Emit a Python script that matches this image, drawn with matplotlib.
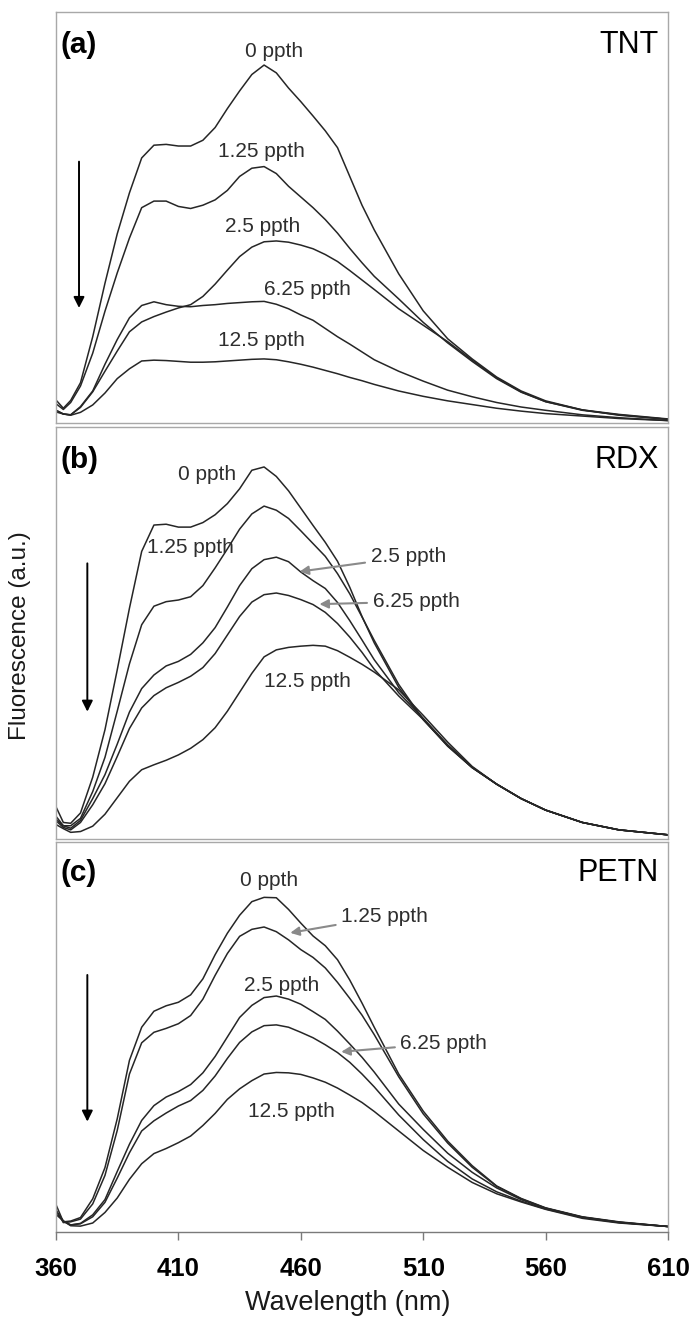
import numpy as np
import matplotlib
matplotlib.use("Agg")
import matplotlib.pyplot as plt

plt.rcParams['font.family'] = ['Liberation Sans', 'DejaVu Sans']

# Emission wavelength grid (nm)
wavelength = [360, 363, 366, 370, 375, 380, 385, 390, 395, 400, 405, 410, 415, 420,
              425, 430, 435, 440, 445, 450, 455, 460, 465, 470, 475, 480, 485, 490,
              500, 510, 520, 530, 540, 550, 560, 575, 590, 610]

concentrations = ["0 ppth", "1.25 ppth", "2.5 ppth", "6.25 ppth", "12.5 ppth"]

# (a) TNT quenching spectra
tnt_0 = [5.6, 3.6, 5.5, 9.8, 21, 34, 46, 56, 64.5, 67.6, 67.8, 67.4, 67.4, 68.8,
         71.9, 76.5, 80.8, 84.8, 87.1, 85.2, 81.5, 78.2, 74.7, 71.1, 67, 60, 53, 47,
         36.3, 27.3, 20.5, 15.6, 11.2, 7.8, 5.4, 3.2, 2.1, 1.0]
tnt_125 = [4.7, 3.3, 5.0, 9.0, 17, 27.2, 36.5, 45, 52.4, 54.0, 54.0, 52.7, 52.2, 53.0,
           54.3, 56.6, 60.0, 62.0, 62.4, 60.7, 57.6, 55.0, 52.4, 49.5, 46.2, 42.5, 39.0, 35.7,
           30.2, 24.5, 19.5, 15.0, 10.8, 7.5, 5.2, 3.1, 2.0, 0.9]
tnt_25 = [3.1, 2.2, 2.0, 3.8, 7.6, 12.6, 17.5, 22.2, 24.6, 25.9, 27.0, 28.0, 28.8, 30.8,
          33.8, 37.2, 40.5, 42.8, 44.1, 44.3, 44.0, 43.3, 42.4, 41.0, 39.3, 37.1, 34.8, 32.5,
          27.8, 23.8, 19.8, 15.3, 11.0, 7.6, 5.2, 3.2, 1.9, 0.9]
tnt_625 = [3.1, 2.2, 2.0, 4.0, 7.8, 14.3, 20.3, 25.6, 28.6, 29.5, 28.8, 28.4, 28.3, 28.6,
           28.8, 29.1, 29.3, 29.5, 29.6, 28.9, 27.8, 26.3, 25.0, 23.0, 21.0, 19.2, 17.3, 15.4,
           12.6, 10.2, 8.0, 6.4, 5.0, 3.9, 3.1, 2.0, 1.3, 0.6]
tnt_125b = [2.7, 2.2, 1.9, 2.6, 4.4, 7.3, 10.8, 13.2, 15.1, 15.3, 15.2, 15.0, 14.8, 14.8,
            14.9, 15.1, 15.3, 15.5, 15.6, 15.4, 14.9, 14.3, 13.6, 12.8, 12.0, 11.1, 10.3, 9.4,
            7.8, 6.5, 5.4, 4.5, 3.6, 2.9, 2.3, 1.7, 1.1, 0.6]

# (b) RDX quenching spectra
rdx_0 = [7.8, 4.0, 3.8, 6.3, 15, 26.5, 41, 56, 69.8, 76.2, 76.4, 75.7, 75.7, 76.8,
         78.7, 81.4, 85.0, 89.5, 90.3, 88.0, 84.5, 80.3, 76.1, 72.0, 67.4, 61.1, 54.0, 47.6,
         36.8, 29.0, 22.5, 17.3, 13.3, 9.8, 7.0, 4.0, 2.2, 1.0]
rdx_125 = [5.5, 3.2, 3.2, 5.0, 11.5, 19.8, 31, 42.5, 52, 56.5, 57.6, 58.0, 58.8, 61.5,
           65.8, 70.4, 75.2, 78.9, 80.8, 79.8, 77.8, 74.8, 71.7, 68.6, 64.4, 59.5, 53.9, 48.2,
           37.5, 29.0, 22.6, 17.3, 13.3, 9.8, 7.0, 4.0, 2.2, 1.0]
rdx_25 = [4.8, 3.2, 2.6, 4.5, 9.8, 15.6, 23, 30.8, 36.5, 39.8, 42.0, 43.1, 44.8, 47.6,
          51.3, 56.3, 61.5, 65.6, 67.8, 68.4, 67.3, 64.8, 62.7, 60.8, 57.4, 53.0, 48.3, 43.5,
          35.5, 29.3, 22.8, 17.4, 13.3, 9.8, 7.0, 4.0, 2.2, 1.0]
rdx_625 = [4.4, 2.8, 2.2, 4.0, 8.3, 13.4, 20, 26.8, 31.8, 34.8, 36.7, 38.0, 39.5, 41.6,
           45.0, 49.5, 54.0, 57.5, 59.3, 59.7, 59.1, 58.1, 56.9, 55.0, 52.3, 49.0, 45.3, 41.2,
           34.7, 29.0, 22.8, 17.4, 13.3, 9.8, 7.0, 4.0, 2.2, 1.0]
rdx_125b = [3.5, 2.5, 1.6, 1.8, 3.1, 6.0, 10.0, 14.0, 16.8, 18.0, 19.1, 20.4, 22.0, 24.1,
            27.0, 31.0, 35.6, 40.2, 44.2, 45.9, 46.5, 46.8, 47.0, 46.8, 45.7, 44.1, 42.4, 40.5,
            36.2, 30.0, 23.5, 17.6, 13.3, 9.8, 7.0, 4.0, 2.2, 1.0]

# (c) PETN quenching spectra
petn_0 = [7.0, 2.6, 2.8, 3.7, 8.5, 16.5, 29, 44, 52.5, 56.6, 58.0, 58.9, 60.8, 64.9,
          71.1, 76.6, 81.2, 84.7, 85.8, 85.7, 82.7, 79.2, 75.9, 73.4, 69.8, 64.6, 58.7, 52.5,
          40.5, 31.0, 23.3, 17.0, 11.8, 8.6, 6.2, 3.9, 2.6, 1.4]
petn_125 = [5.7, 2.4, 2.6, 3.3, 7.2, 14.5, 26, 40.5, 48.5, 51.2, 52.2, 53.4, 55.5, 59.7,
            65.8, 71.4, 75.8, 77.6, 78.2, 77.0, 74.9, 72.4, 70.4, 67.7, 64.0, 59.9, 55.6, 50.6,
            39.8, 30.3, 22.8, 16.6, 11.7, 8.5, 6.1, 3.8, 2.5, 1.4]
petn_25 = [5.3, 2.8, 1.8, 2.2, 4.4, 8.3, 15.5, 22.5, 28.6, 32.4, 34.6, 36.0, 37.8, 40.8,
           45.0, 50.0, 55.0, 58.1, 60.1, 60.5, 59.7, 58.4, 56.5, 54.5, 51.5, 48.2, 44.8, 41.0,
           32.8, 26.3, 20.2, 15.3, 11.3, 8.3, 6.1, 3.8, 2.5, 1.4]
petn_625 = [5.3, 2.8, 1.8, 2.1, 3.9, 7.6, 13.8, 20.3, 25.9, 28.5, 30.5, 32.3, 33.7, 36.3,
            40.0, 44.5, 48.6, 51.3, 52.9, 53.1, 52.5, 51.2, 49.8, 48.0, 46.0, 43.5, 40.5, 37.2,
            30.0, 23.7, 18.1, 13.6, 10.3, 7.9, 5.9, 3.7, 2.4, 1.4]
petn_125b = [4.5, 2.8, 1.6, 1.5, 2.3, 5.0, 8.7, 13.5, 17.5, 20.1, 21.4, 22.9, 24.6, 27.3,
             30.4, 34.0, 36.7, 38.8, 40.5, 40.9, 40.8, 40.4, 39.5, 38.4, 36.9, 35.1, 33.2, 30.9,
             25.9, 20.9, 16.6, 12.7, 9.8, 7.7, 5.8, 3.5, 2.3, 1.4]

x_ticks = [360, 410, 460, 510, 560, 610]

LINE = "#262626"
FRAME = "#a8a8a8"
NOTE = "#2e2e2e"
GREY_ARROW = "#8a8a8a"

fig = plt.figure(figsize=(6.97, 13.22), dpi=100)
left, width = 56 / 697, 612 / 697
ax_a = fig.add_axes([left, 0.6800, width, 0.3109])
ax_b = fig.add_axes([left, 0.3654, width, 0.3116])
ax_c = fig.add_axes([left, 0.0681, width, 0.2950])

panels = [
    (ax_a, "(a)", "TNT", [tnt_0, tnt_125, tnt_25, tnt_625, tnt_125b]),
    (ax_b, "(b)", "RDX", [rdx_0, rdx_125, rdx_25, rdx_625, rdx_125b]),
    (ax_c, "(c)", "PETN", [petn_0, petn_125, petn_25, petn_625, petn_125b]),
]

for ax, tag, name, curves in panels:
    for series in curves:
        ax.plot(wavelength, series, color=LINE, lw=1.1, solid_joinstyle='round')
    ax.set_xlim(360, 610)
    ax.set_ylim(0, 100)
    ax.set_yticks([])
    for sp in ax.spines.values():
        sp.set_color(FRAME)
        sp.set_linewidth(1.0)
    ax.text(0.008, 0.92, tag, transform=ax.transAxes, ha='left', va='center',
            fontsize=21.5, fontweight='bold', color='black')
    ax.text(0.985, 0.92, name, transform=ax.transAxes, ha='right', va='center',
            fontsize=22, color='black')

ax_a.set_xticks([])
ax_b.set_xticks([])
ax_c.set_xticks(x_ticks)
ax_c.set_xticklabels([str(t) for t in x_ticks], fontsize=18.5, fontweight='bold')
ax_c.spines['bottom'].set_color("#7a7a7a")
ax_c.tick_params(axis='x', direction='out', length=6, width=1.0, color="#7a7a7a", pad=12)


def down_arrow(ax, x, y0, y1):
    ax.annotate('', xy=(x, y1), xytext=(x, y0),
                arrowprops=dict(arrowstyle='-|>', color='black', lw=1.4,
                                mutation_scale=16, shrinkA=0, shrinkB=0))


def pointer(ax, text, xy, xytext):
    ax.annotate(text, xy=xy, xytext=xytext, ha='left', va='center', fontsize=15,
                color=NOTE,
                arrowprops=dict(arrowstyle='-|>', color=GREY_ARROW, lw=1.5,
                                mutation_scale=13, shrinkA=2, shrinkB=0))


# (a) labels
down_arrow(ax_a, 369.4, 63.6, 28.0)
ax_a.text(449.2, 90.3, concentrations[0], ha='center', va='center', fontsize=15, color=NOTE)
ax_a.text(443.8, 66.0, concentrations[1], ha='center', va='center', fontsize=15, color=NOTE)
ax_a.text(444.4, 47.8, concentrations[2], ha='center', va='center', fontsize=15, color=NOTE)
ax_a.text(462.9, 32.4, concentrations[3], ha='center', va='center', fontsize=15, color=NOTE)
ax_a.text(443.8, 20.0, concentrations[4], ha='center', va='center', fontsize=15, color=NOTE)

# (b) labels
down_arrow(ax_b, 372.8, 66.9, 30.9)
ax_b.text(421.9, 88.5, concentrations[0], ha='center', va='center', fontsize=15, color=NOTE)
ax_b.text(415.1, 70.7, concentrations[1], ha='center', va='center', fontsize=15, color=NOTE)
pointer(ax_b, concentrations[2], xy=(459.5, 64.9), xytext=(488.5, 68.5))
pointer(ax_b, concentrations[3], xy=(467.6, 57.0), xytext=(489.3, 57.6))
ax_b.text(462.9, 38.3, concentrations[4], ha='center', va='center', fontsize=15, color=NOTE)

# (c) labels
down_arrow(ax_c, 372.8, 65.9, 28.3)
ax_c.text(447.2, 90.1, concentrations[0], ha='center', va='center', fontsize=15, color=NOTE)
pointer(ax_c, concentrations[1], xy=(455.7, 76.7), xytext=(476.5, 80.9))
ax_c.text(452.3, 63.2, concentrations[2], ha='center', va='center', fontsize=15, color=NOTE)
pointer(ax_c, concentrations[3], xy=(476.5, 46.2), xytext=(500.7, 48.4))
ax_c.text(456.0, 30.8, concentrations[4], ha='center', va='center', fontsize=15, color=NOTE)

fig.text(348 / 697, 1 - 1303 / 1322, "Wavelength (nm)", ha='center', va='center',
         fontsize=19.5, color='#1a1a1a')
fig.text(20 / 697, 1 - 636 / 1322, "Fluorescence (a.u.)", ha='center', va='center',
         rotation=90, fontsize=17.5, color='#1a1a1a')

fig.savefig("out.png", dpi=100)
